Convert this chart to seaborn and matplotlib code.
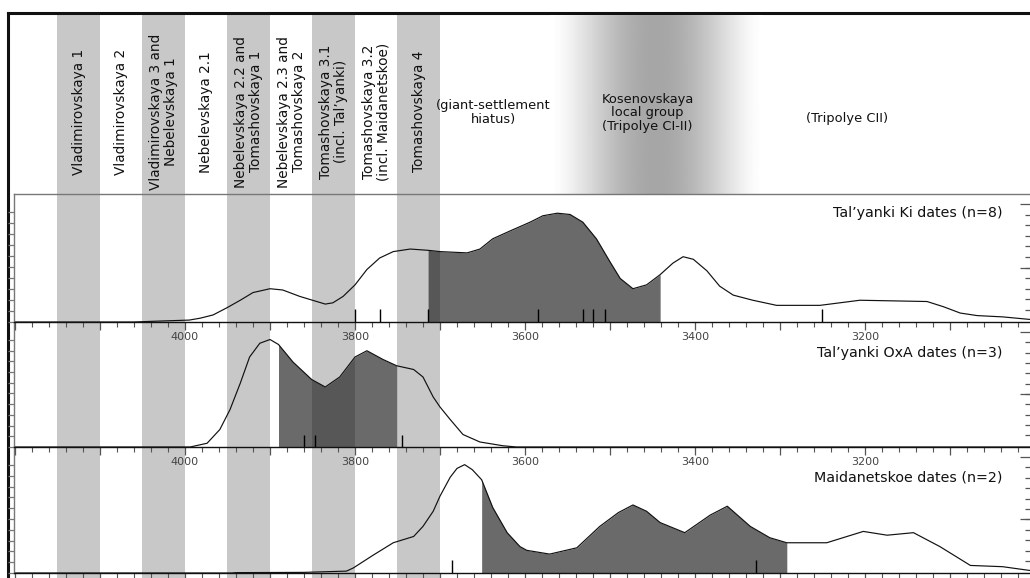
import numpy as np
import seaborn as sns
import matplotlib.pyplot as plt
from matplotlib.ticker import MultipleLocator, FixedLocator, FuncFormatter

# Phase bands along the top (years BC)
phase_names = ["Vladimirovskaya 1", "Vladimirovskaya 2",
               "Vladimirovskaya 3 and\nNebelevskaya 1", "Nebelevskaya 2.1",
               "Nebelevskaya 2.2 and\nTomashovskaya 1", "Nebelevskaya 2.3 and\nTomashovskaya 2",
               "Tomashovskaya 3.1\n(incl. Tal’yanki)", "Tomashovskaya 3.2\n(incl. Maidanetskoe)",
               "Tomashovskaya 4"]
phase_start = [4150, 4100, 4050, 4000, 3950, 3900, 3850, 3800, 3750]
phase_end = [4100, 4050, 4000, 3950, 3900, 3850, 3800, 3750, 3700]
phase_grey = [True, False, True, False, True, False, True, False, True]

later_names = ["(giant-settlement\nhiatus)", "Kosenovskaya\nlocal group\n(Tripolye CI-II)", "(Tripolye CII)"]
later_centre = [3637, 3456, 3221]
kosenovskaya_span = [3570, 3320]

# Summed probability curves (years BC, relative height)
ki_years = [4200, 4060, 4040, 3995, 3982, 3967, 3951, 3935, 3920, 3900, 3885, 3865, 3845, 3835,
            3826, 3814, 3800, 3786, 3771, 3755, 3735, 3714, 3700, 3668, 3653, 3638, 3618, 3594,
            3579, 3562, 3547, 3532, 3516, 3500, 3488, 3473, 3457, 3441, 3426, 3414, 3402, 3386,
            3371, 3355, 3332, 3304, 3253, 3206, 3127, 3108, 3088, 3068, 3038, 3006]
ki_vals = [0, 0, 0.005, 0.015, 0.03, 0.055, 0.11, 0.17, 0.23, 0.26, 0.25, 0.20, 0.16, 0.14,
           0.15, 0.20, 0.29, 0.41, 0.50, 0.55, 0.57, 0.56, 0.55, 0.54, 0.57, 0.65, 0.71, 0.78,
           0.83, 0.85, 0.84, 0.78, 0.65, 0.47, 0.34, 0.26, 0.29, 0.37, 0.46, 0.51, 0.49, 0.40,
           0.28, 0.21, 0.17, 0.13, 0.13, 0.17, 0.16, 0.12, 0.07, 0.05, 0.04, 0.02]
ki_dates = [3800, 3771, 3714, 3585, 3532, 3520, 3506, 3251]
ki_range = [3714, 3441]

oxa_years = [4200, 3994, 3974, 3959, 3947, 3935, 3924, 3912, 3900, 3890, 3873, 3851, 3835, 3818,
             3800, 3786, 3767, 3751, 3731, 3720, 3708, 3700, 3688, 3673, 3653, 3626, 3610, 3000]
oxa_vals = [0, 0, 0.03, 0.14, 0.30, 0.51, 0.72, 0.83, 0.86, 0.82, 0.68, 0.54, 0.48, 0.56,
            0.72, 0.77, 0.70, 0.65, 0.62, 0.56, 0.40, 0.32, 0.22, 0.10, 0.04, 0.01, 0, 0]
oxa_dates = [3860, 3847, 3745]
oxa_range = [3890, 3751]

mai_years = [4200, 3945, 3940, 3860, 3810, 3802, 3779, 3755, 3731, 3720, 3708, 3700, 3688, 3680,
             3671, 3662, 3651, 3638, 3621, 3606, 3598, 3571, 3539, 3512, 3490, 3473, 3457, 3441,
             3412, 3382, 3362, 3335, 3312, 3292, 3245, 3202, 3174, 3143, 3112, 3076, 3038, 3006]
mai_vals = [0, 0, 0.003, 0.005, 0.015, 0.04, 0.14, 0.24, 0.29, 0.37, 0.49, 0.61, 0.76, 0.83,
            0.86, 0.82, 0.74, 0.52, 0.32, 0.21, 0.18, 0.15, 0.20, 0.37, 0.48, 0.54, 0.49, 0.40,
            0.32, 0.46, 0.53, 0.37, 0.28, 0.24, 0.24, 0.33, 0.30, 0.32, 0.21, 0.06, 0.05, 0.02]
mai_dates = [3686, 3328]
mai_range = [3651, 3292]

panel_titles = ["Tal’yanki Ki dates (n=8)", "Tal’yanki OxA dates (n=3)", "Maidanetskoe dates (n=2)"]

# layout, in pixels of the 1030x578 picture
W, H = 1030, 578
PX_4000 = 185
PX_PER_YEAR = 0.85


def year_at(px):
    return 4000 + (PX_4000 - px) / PX_PER_YEAR


def px_axes(fig, x0, y0, x1, y1, **kw):
    ax = fig.add_axes([x0 / W, 1 - y1 / H, (x1 - x0) / W, (y1 - y0) / H], **kw)
    ax.set_xlim(year_at(x0), year_at(x1))
    return ax


def year_label(v, pos):
    v = int(round(v))
    if v % 200 == 0 and v <= 4100:
        return str(v)
    return ""


sns.set_theme(style="white")
plt.rcParams["font.family"] = ["DejaVu Sans"]

fig = plt.figure(figsize=(W / 100, H / 100), dpi=100)

# background: phase bands and thick frame
bg = px_axes(fig, 8, 13, W, H + 5, zorder=0)
bg.set_ylim(0, 1)
for s, e, g in zip(phase_start, phase_end, phase_grey):
    if g:
        bg.axvspan(s, e, color="#c8c8c8", lw=0)
for side in ["right", "bottom"]:
    bg.spines[side].set_visible(False)
for side in ["left", "top"]:
    bg.spines[side].set_color("#111111")
    bg.spines[side].set_linewidth(2.2)
bg.set_xticks([])
bg.set_yticks([])

# header with phase names
hd = px_axes(fig, 8, 15, W, 194, zorder=1)
hd.set_facecolor("none")
for sp in hd.spines.values():
    sp.set_visible(False)
hd.set_xticks([])
hd.set_yticks([])
t = np.linspace(0, 1, 300)
grad = 1 - 0.35 * np.sin(np.pi * t) ** 1.5
hd.imshow(grad[np.newaxis, :], cmap="gray", vmin=0, vmax=1, aspect="auto",
          extent=(kosenovskaya_span[0], kosenovskaya_span[1], 0, 1), zorder=0)
hd.set_xlim(year_at(8), year_at(W))
hd.set_ylim(0, 1)
for name, s, e in zip(phase_names, phase_start, phase_end):
    hd.text((s + e) / 2, 0.46, name, rotation=90, ha="center", va="center",
            fontsize=9.8, color="#111111", linespacing=1.1, multialignment="center")
for name, c in zip(later_names, later_centre):
    y = 0.42 if name == "(Tripolye CII)" else 0.455
    hd.text(c, y, name, ha="center", va="center", fontsize=9.4, color="#111111",
            linespacing=1.05, multialignment="center")

# the three probability panels
panels = [
    (ki_years, ki_vals, ki_dates, ki_range, 194, 322, 0.855),
    (oxa_years, oxa_vals, oxa_dates, oxa_range, 322, 447, 0.75),
    (mai_years, mai_vals, mai_dates, mai_range, 447, 573, 0.76),
]
for i, (yrs, vals, dates, rng, top, bot, ty) in enumerate(panels):
    ax = px_axes(fig, 14, top, W, bot, zorder=5 - i)
    ax.set_facecolor("none")
    yrs = np.array(yrs)
    vals = np.array(vals)
    inside = (yrs <= rng[0]) & (yrs >= rng[1])
    ax.fill_between(yrs, 0, vals, where=inside, color="#1a1a1a", alpha=0.65, lw=0)
    sns.lineplot(x=yrs, y=vals, ax=ax, color="#111111", lw=0.85)
    sns.rugplot(x=dates, ax=ax, height=0.1, color="black", lw=1.0)
    ax.set_xlim(year_at(14), year_at(W))
    ax.set_ylim(0, 1)
    ax.set_xlabel("")
    ax.set_ylabel("")

    ax.xaxis.set_major_locator(MultipleLocator(100))
    ax.xaxis.set_minor_locator(MultipleLocator(20))
    ax.xaxis.set_major_formatter(FuncFormatter(year_label))
    ax.tick_params(axis="x", which="major", direction="out", length=6, width=0.9,
                   color="#555555", labelsize=8, labelcolor="#444444", pad=1.5,
                   bottom=True, top=False, labelbottom=(i < 2))
    ax.tick_params(axis="x", which="minor", direction="out", length=3.5, width=0.8,
                   color="#555555", bottom=True, top=False)

    ax.yaxis.set_major_locator(FixedLocator(np.arange(11) * 0.0857))
    ax.tick_params(axis="y", which="major", direction="out", length=4.5, width=0.9,
                   color="#777777", left=True, right=False, labelleft=False, labelright=False)

    ax.spines["right"].set_visible(False)
    ax.spines["bottom"].set_color("#111111")
    ax.spines["bottom"].set_linewidth(1.0)
    ax.spines["left"].set_color("#777777")
    ax.spines["left"].set_linewidth(1.0)
    ax.spines["top"].set_color("#777777")
    ax.spines["top"].set_linewidth(1.0)
    ax.spines["top"].set_visible(i == 0)

    ax.text(0.973, ty, panel_titles[i], transform=ax.transAxes, ha="right", va="center",
            fontsize=10.3, color="#111111")

    # right-hand ticks
    ax2 = ax.twinx()
    ax2.set_ylim(0, 1)
    ax2.yaxis.set_major_locator(FixedLocator([0.921, 0.425]))
    ax2.yaxis.set_minor_locator(FixedLocator(0.921 - np.arange(11) * 0.0827))
    ax2.tick_params(axis="y", which="major", direction="in", length=7, width=0.9,
                    color="#555555", right=True, left=False, labelright=False, labelleft=False)
    ax2.tick_params(axis="y", which="minor", direction="in", length=3.8, width=0.9,
                    color="#555555", right=True, left=False)
    for sp in ax2.spines.values():
        sp.set_visible(False)
    ax2.grid(False)

fig.savefig("out.png", dpi=100)
